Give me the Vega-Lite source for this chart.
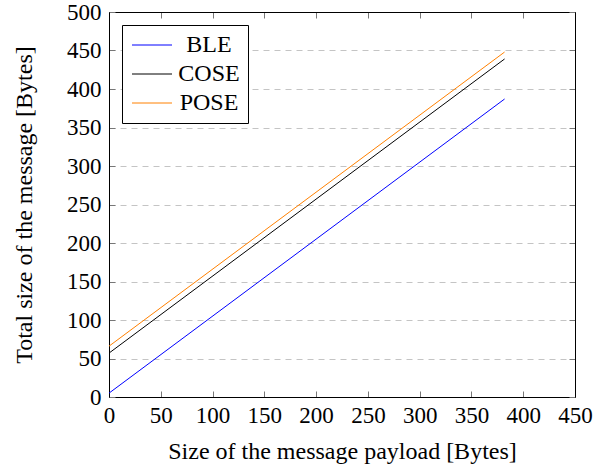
{
  "$schema": "https://vega.github.io/schema/vega-lite/v6.json",
  "width": 466,
  "height": 385,
  "autosize": "none",
  "padding": {"left": 109, "top": 12, "right": 29, "bottom": 68},
  "background": "white",
  "config": {
    "font": "Liberation Serif",
    "view": {"stroke": "black", "strokeWidth": 1},
    "axis": {"labelFont": "Liberation Serif", "titleFont": "Liberation Serif", "labelFontSize": 23, "titleFontSize": 24, "titleFontWeight": "normal", "labelColor": "black", "titleColor": "black", "domainColor": "black", "tickColor": "#777777"}
  },
  "data": {
    "values": [
      {"payload": 0, "total": 5, "series": "BLE"},
      {"payload": 382, "total": 387, "series": "BLE"},
      {"payload": 0, "total": 57, "series": "COSE"},
      {"payload": 382, "total": 439, "series": "COSE"},
      {"payload": 0, "total": 66, "series": "POSE"},
      {"payload": 382, "total": 448, "series": "POSE"}
    ]
  },
  "layer": [
    {
      "mark": {"type": "line", "strokeWidth": 1, "clip": true},
      "encoding": {
        "x": {"field": "payload", "type": "quantitative",
          "scale": {"domain": [0, 450], "nice": false},
          "axis": {"orient": "bottom", "values": [0,50,100,150,200,250,300,350,400,450], "tickSize": -6, "labelPadding": 13, "grid": false, "title": "Size of the message payload [Bytes]", "titlePadding": 12, "labelFlush": false}},
        "y": {"field": "total", "type": "quantitative",
          "scale": {"domain": [0, 500], "nice": false},
          "axis": {"orient": "left", "values": [0,50,100,150,200,250,300,350,400,450,500], "tickSize": -6, "labelPadding": 14, "grid": true, "gridDash": [6, 5], "gridColor": "#c4c4c4", "title": "Total size of the message [Bytes]", "titlePadding": 30, "labelFlush": false}},
        "color": {"field": "series", "type": "nominal",
          "scale": {"domain": ["BLE", "COSE", "POSE"], "range": ["#0000ff", "#000000", "#ff8000"]},
          "legend": {"title": null, "orient": "top-left", "offset": 13, "symbolType": "M-1,0H3", "symbolSize": 400, "symbolStrokeWidth": 1, "labelFontSize": 24, "labelFont": "Liberation Serif", "labelColor": "black", "labelAlign": "center", "strokeColor": "black", "fillColor": "white", "padding": 8, "rowPadding": 5, "labelOffset": 55}}
      }
    },
    {
      "mark": {"type": "line", "opacity": 0},
      "encoding": {
        "x": {"field": "payload", "type": "quantitative",
          "axis": {"orient": "top", "values": [0,50,100,150,200,250,300,350,400,450], "tickSize": -6, "labels": false, "grid": false, "title": null}},
        "y": {"field": "total", "type": "quantitative",
          "axis": {"orient": "right", "values": [0,50,100,150,200,250,300,350,400,450,500], "tickSize": -6, "labels": false, "grid": false, "title": null}},
        "detail": {"field": "series"}
      }
    }
  ],
  "resolve": {"axis": {"x": "independent", "y": "independent"}}
}
